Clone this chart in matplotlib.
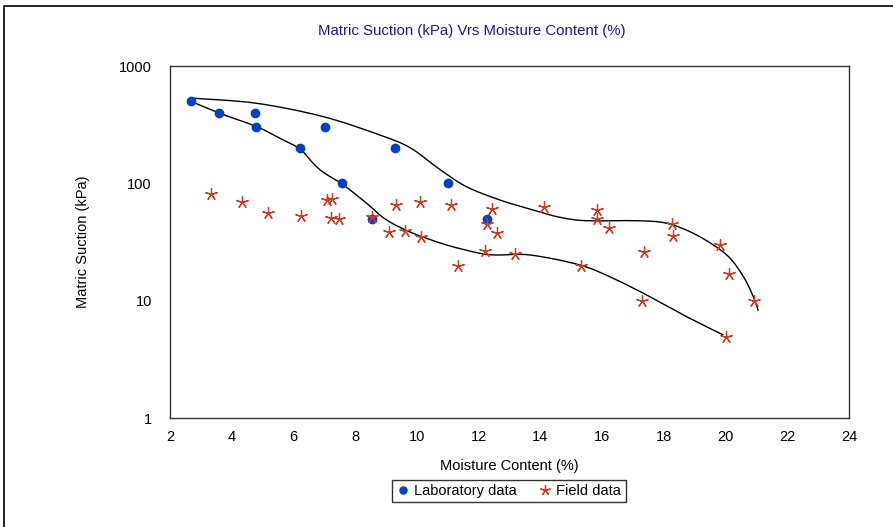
import numpy as np
import matplotlib.pyplot as plt
from matplotlib.patches import Rectangle, PathPatch
from matplotlib.path import Path

plt.rcParams['font.family'] = ['Liberation Sans', 'DejaVu Sans']

# laboratory data (moisture %, suction kPa)
lab_x = [2.67, 3.58, 4.75, 4.79, 7.03, 6.2, 9.3, 7.57, 11.0, 8.54, 12.28]
lab_y = [500, 400, 400, 300, 300, 200, 200, 100, 100, 50, 50]

# field data
field_x = [3.33, 4.32, 5.19, 6.24, 7.10, 7.26, 7.23, 7.48, 8.54, 9.32, 10.1, 11.1,
           12.43, 12.28, 12.6, 9.11, 9.62, 10.12, 12.2, 11.32, 13.19, 14.11, 15.83,
           15.83, 16.23, 15.33, 17.35, 17.28, 18.26, 18.3, 19.83, 20.1, 20.91, 20.03]
field_y = [81, 70, 55.5, 52.6, 71.6, 73.5, 50.6, 49.6, 51.9, 64.9, 69.7, 64.9,
           60.7, 44.7, 37.9, 38.6, 39.4, 34.9, 26.6, 19.8, 24.8, 62.8, 59.6,
           49.6, 41.6, 19.8, 25.8, 9.9, 44.7, 35.7, 29.8, 16.8, 9.9, 4.9]

# envelope curves
upper_x = [2.76, 4.81, 6.97, 8.80, 9.78, 10.75, 11.61, 12.69, 13.77, 14.64,
           15.50, 17.12, 18.10, 19.07, 20.04, 20.58, 20.90, 21.06]
upper_y = [531, 481, 370, 258, 201, 131, 93.5, 72.1, 59.2, 51.3,
           48, 48, 45.6, 36.2, 24.5, 16, 10.8, 8.2]
lower_x = [2.65, 3.62, 4.81, 5.56, 6.21, 6.64, 6.97, 7.62, 8.37, 9.02, 9.88, 10.97,
           12.05, 12.59, 13.67, 15.29, 16.36, 17.55, 18.74, 19.93]
lower_y = [504, 395, 304, 242, 196, 148, 124, 96.8, 67.6, 48.7, 37.5, 29.8,
           25.3, 24.5, 24.5, 20.1, 15.5, 10.8, 7.3, 5.1]

XMIN, XMAX, YMIN, YMAX = 2, 24, 1, 1000


def smooth_path(xs, ys):
    # Catmull-Rom through the read points, as Bezier segments in axes coords
    p = np.column_stack([(np.array(xs) - XMIN) / (XMAX - XMIN),
                         np.log10(ys) / np.log10(YMAX / YMIN)])
    verts = [p[0]]
    codes = [Path.MOVETO]
    n = len(p)
    for i in range(n - 1):
        p0 = p[max(i - 1, 0)]
        p1, p2 = p[i], p[i + 1]
        p3 = p[min(i + 2, n - 1)]
        verts += [p1 + (p2 - p0) / 6, p2 - (p3 - p1) / 6, p2]
        codes += [Path.CURVE4] * 3
    return Path(verts, codes)


fig = plt.figure(figsize=(8.93, 5.27), dpi=100)
ax = fig.add_axes([170 / 893, 1 - 418 / 527, 679 / 893, 352 / 527])

for xs, ys in [(upper_x, upper_y), (lower_x, lower_y)]:
    ax.add_patch(PathPatch(smooth_path(xs, ys), fill=False, edgecolor='black',
                           lw=1.0, transform=ax.transAxes))
ax.plot(lab_x, lab_y, 'o', color='#0040c8', ms=6, label='Laboratory data')
ax.plot(field_x, field_y, ls='none', marker=(5, 2, 0), color='#d03a1e', ms=9,
        mew=0.9, label='Field data')

ax.set_yscale('log')
ax.set_xlim(XMIN, XMAX)
ax.set_ylim(YMIN, YMAX)
ax.set_xticks(range(2, 25, 2))
ax.set_yticks([1, 10, 100, 1000])
ax.set_yticklabels(['1', '10', '100', '1000'])
ax.minorticks_off()
ax.tick_params(length=0, labelsize=10.5)
ax.tick_params(axis='y', pad=13)
ax.tick_params(axis='x', pad=8.5)
for s in ax.spines.values():
    s.set_color('#333333')
    s.set_linewidth(1.0)

ax.set_xlabel('Moisture Content (%)', fontsize=10.5, labelpad=11)
ax.set_ylabel('Matric Suction (kPa)', fontsize=10.5, labelpad=21)
fig.text(472 / 893, 1 - 31 / 527, 'Matric Suction (kPa) Vrs Moisture Content (%)',
         ha='center', va='center', fontsize=10.8, color='#1a1a99')

leg = ax.legend(loc='center', bbox_to_anchor=(509 / 893, 1 - 491 / 527),
                bbox_transform=fig.transFigure, ncol=2, fontsize=10.5,
                frameon=True, fancybox=False, handlelength=0.8,
                handletextpad=0.4, columnspacing=1.5, borderpad=0.3,
                markerscale=0.85)
leg.get_frame().set_edgecolor('black')
leg.get_frame().set_linewidth(1.0)

fig.add_artist(Rectangle((4 / 893, -0.1), 1.2, 1 - 6 / 527 + 0.1,
                         transform=fig.transFigure, fill=False,
                         edgecolor='black', lw=1.2, clip_on=False))

fig.savefig('out.png', dpi=100)
